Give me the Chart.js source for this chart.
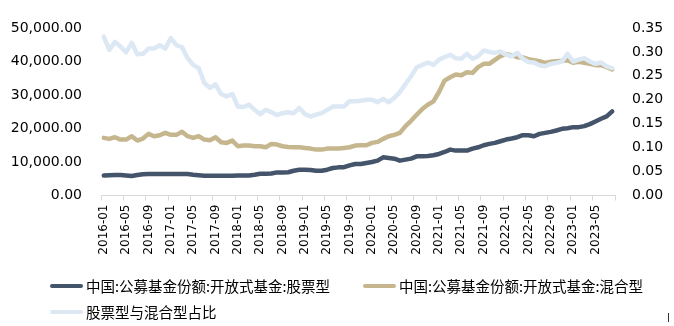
<!DOCTYPE html>
<html><head><meta charset="utf-8">
<script src="https://cdn.jsdelivr.net/npm/chart.js@4"></script>
<style>
body{margin:0;background:#fff;}
#wrap{position:relative;width:674px;height:326px;overflow:hidden;}
canvas{position:absolute;left:0;top:0;}
.lgt{position:absolute;font-family:"Noto Sans CJK SC";font-size:14.5px;color:#000;white-space:nowrap;line-height:16px;}
.sw{position:absolute;height:4px;width:33px;border-radius:2px;}
#mark{position:absolute;left:668px;top:313px;width:1px;height:9px;background:#333;}
</style></head><body>
<div id="wrap"><canvas id="c" width="674" height="326"></canvas><div id="legend"></div><div id="mark"></div></div>
<script>
const categories = [
 '2016-01','2016-02','2016-03','2016-04','2016-05','2016-06','2016-07','2016-08','2016-09','2016-10','2016-11','2016-12',
 '2017-01','2017-02','2017-03','2017-04','2017-05','2017-06','2017-07','2017-08','2017-09','2017-10','2017-11','2017-12',
 '2018-01','2018-02','2018-03','2018-04','2018-05','2018-06','2018-07','2018-08','2018-09','2018-10','2018-11','2018-12',
 '2019-01','2019-02','2019-03','2019-04','2019-05','2019-06','2019-07','2019-08','2019-09','2019-10','2019-11','2019-12',
 '2020-01','2020-02','2020-03','2020-04','2020-05','2020-06','2020-07','2020-08','2020-09','2020-10','2020-11','2020-12',
 '2021-01','2021-02','2021-03','2021-04','2021-05','2021-06','2021-07','2021-08','2021-09','2021-10','2021-11','2021-12',
 '2022-01','2022-02','2022-03','2022-04','2022-05','2022-06','2022-07','2022-08','2022-09','2022-10','2022-11','2022-12',
 '2023-01','2023-02','2023-03','2023-04','2023-05','2023-06','2023-07','2023-08'
];
const seriesNames = ['中国:公募基金份额:开放式基金:股票型','中国:公募基金份额:开放式基金:混合型','股票型与混合型占比'];
const stockShares = [
 5950,6050,6100,6100,6000,5800,6100,6350,6450,6450,
 6450,6450,6450,6450,6450,6400,6200,6050,5900,5900,
 5900,5900,5900,5900,5950,5950,6000,6200,6500,6500,
 6550,6900,6900,6950,7400,7700,7700,7600,7400,7400,
 7700,8200,8400,8450,9000,9400,9400,9700,10000,10400,
 11400,11200,11000,10400,10700,11000,11700,11700,11800,12000,
 12400,13000,13700,13400,13400,13400,14000,14400,15000,15400,
 15700,16200,16700,17000,17400,18000,18000,17700,18400,18700,
 19000,19400,19900,20100,20400,20400,20700,21300,22100,22900,
 23600,25100
];
const mixedShares = [
 17200,16900,17400,16700,16700,17700,16400,17000,18400,17700,
 18000,18700,18100,18100,19000,17700,17200,17700,16700,16500,
 17400,15900,15700,16400,14700,14900,14900,14700,14700,14400,
 15400,15200,14700,14500,14400,14400,14200,14000,13700,13700,
 14000,14000,14000,14200,14400,14900,15000,15000,15700,16000,
 16900,17700,18100,18700,20700,22300,24100,25800,27100,28100,
 30900,34300,35300,36100,35900,36800,36600,38300,39300,39300,
 40500,41600,42200,41900,41300,41200,40700,40400,40100,39600,
 39900,40100,40200,40400,39600,39900,39600,39300,38900,38900,
 38300,37600
];
const shareRatio = [
 0.332,0.304,0.321,0.311,0.299,0.319,0.295,0.296,0.307,0.307,
 0.314,0.307,0.329,0.314,0.310,0.287,0.273,0.266,0.235,0.225,
 0.232,0.212,0.207,0.212,0.186,0.185,0.190,0.179,0.170,0.179,
 0.174,0.168,0.172,0.174,0.172,0.183,0.170,0.165,0.169,0.172,
 0.179,0.186,0.186,0.186,0.197,0.197,0.198,0.200,0.200,0.195,
 0.202,0.195,0.204,0.216,0.233,0.249,0.268,0.273,0.278,0.273,
 0.284,0.289,0.294,0.287,0.286,0.296,0.286,0.291,0.303,0.300,
 0.298,0.301,0.294,0.291,0.298,0.286,0.279,0.278,0.272,0.270,
 0.275,0.277,0.280,0.296,0.280,0.284,0.287,0.280,0.275,0.278,
 0.270,0.266
];
const leftTicks = {min:0, max:50000, step:10000};
const rightTicks = {min:0, max:0.35, step:0.05};
const colors = ['#44546A','#C5B68E','#DDE8F5'];

const axisFont = {family:'DejaVu Sans', size:14};
const xFont = {family:'DejaVu Sans', size:12};
const gridGrey = '#d9d9d9';

new Chart(document.getElementById('c'), {
  type:'line',
  data:{
    labels:categories,
    datasets:[
      {label:seriesNames[0], data:stockShares, yAxisID:'y', borderColor:colors[0], backgroundColor:colors[0], order:3},
      {label:seriesNames[1], data:mixedShares, yAxisID:'y', borderColor:colors[1], backgroundColor:colors[1], order:2},
      {label:seriesNames[2], data:shareRatio, yAxisID:'y1', borderColor:colors[2], backgroundColor:colors[2], order:1}
    ]
  },
  options:{
    responsive:false, animation:false, devicePixelRatio:1,
    layout:{padding:{top:28,left:0,right:0,bottom:0}},
    elements:{point:{radius:0}, line:{borderWidth:4.5, tension:0, borderCapStyle:'round', borderJoinStyle:'round'}},
    plugins:{legend:{display:false}, tooltip:{enabled:false}},
    scales:{
      x:{
        type:'category', offset:true,
        grid:{offset:true, drawOnChartArea:false, drawTicks:true, tickLength:5, lineWidth:1,
          color:(c)=> (c.type==='tick' && c.index%4!==0) ? 'rgba(0,0,0,0)' : gridGrey},
        border:{color:gridGrey, width:1},
        ticks:{autoSkip:false, maxRotation:90, minRotation:90, padding:4, font:xFont, color:'#000',
          callback:(v,i)=> i%4===0 ? categories[i] : ''},
        afterFit:(s)=>{ s.height = 130.5; }
      },
      y:{
        position:'left', min:leftTicks.min, max:leftTicks.max,
        grid:{display:false, drawTicks:false}, border:{display:false},
        ticks:{stepSize:leftTicks.step, padding:19, font:axisFont, color:'#000',
          callback:(v)=> Number(v).toLocaleString('en-US',{minimumFractionDigits:2, maximumFractionDigits:2})},
        afterFit:(s)=>{ s.width = 101; }
      },
      y1:{
        position:'right', min:rightTicks.min, max:rightTicks.max,
        grid:{display:false, drawTicks:false}, border:{display:false},
        ticks:{stepSize:rightTicks.step, padding:17, font:axisFont, color:'#000',
          callback:(v)=> Number(v).toFixed(2)},
        afterFit:(s)=>{ s.width = 59; }
      }
    }
  }
});

// HTML legend
const legendPos = [{x:50,y:286},{x:363,y:286},{x:50,y:312}];
const lg = document.getElementById('legend');
seriesNames.forEach((name,i)=>{
  const p = legendPos[i];
  const sw = document.createElement('div');
  sw.className='sw'; sw.style.left=p.x+'px'; sw.style.top=(p.y-2)+'px'; sw.style.background=colors[i];
  const t = document.createElement('div');
  t.className='lgt'; t.style.left=(p.x+36)+'px'; t.style.top=(p.y-8)+'px'; t.textContent=name;
  lg.appendChild(sw); lg.appendChild(t);
});
</script>
</body></html>
